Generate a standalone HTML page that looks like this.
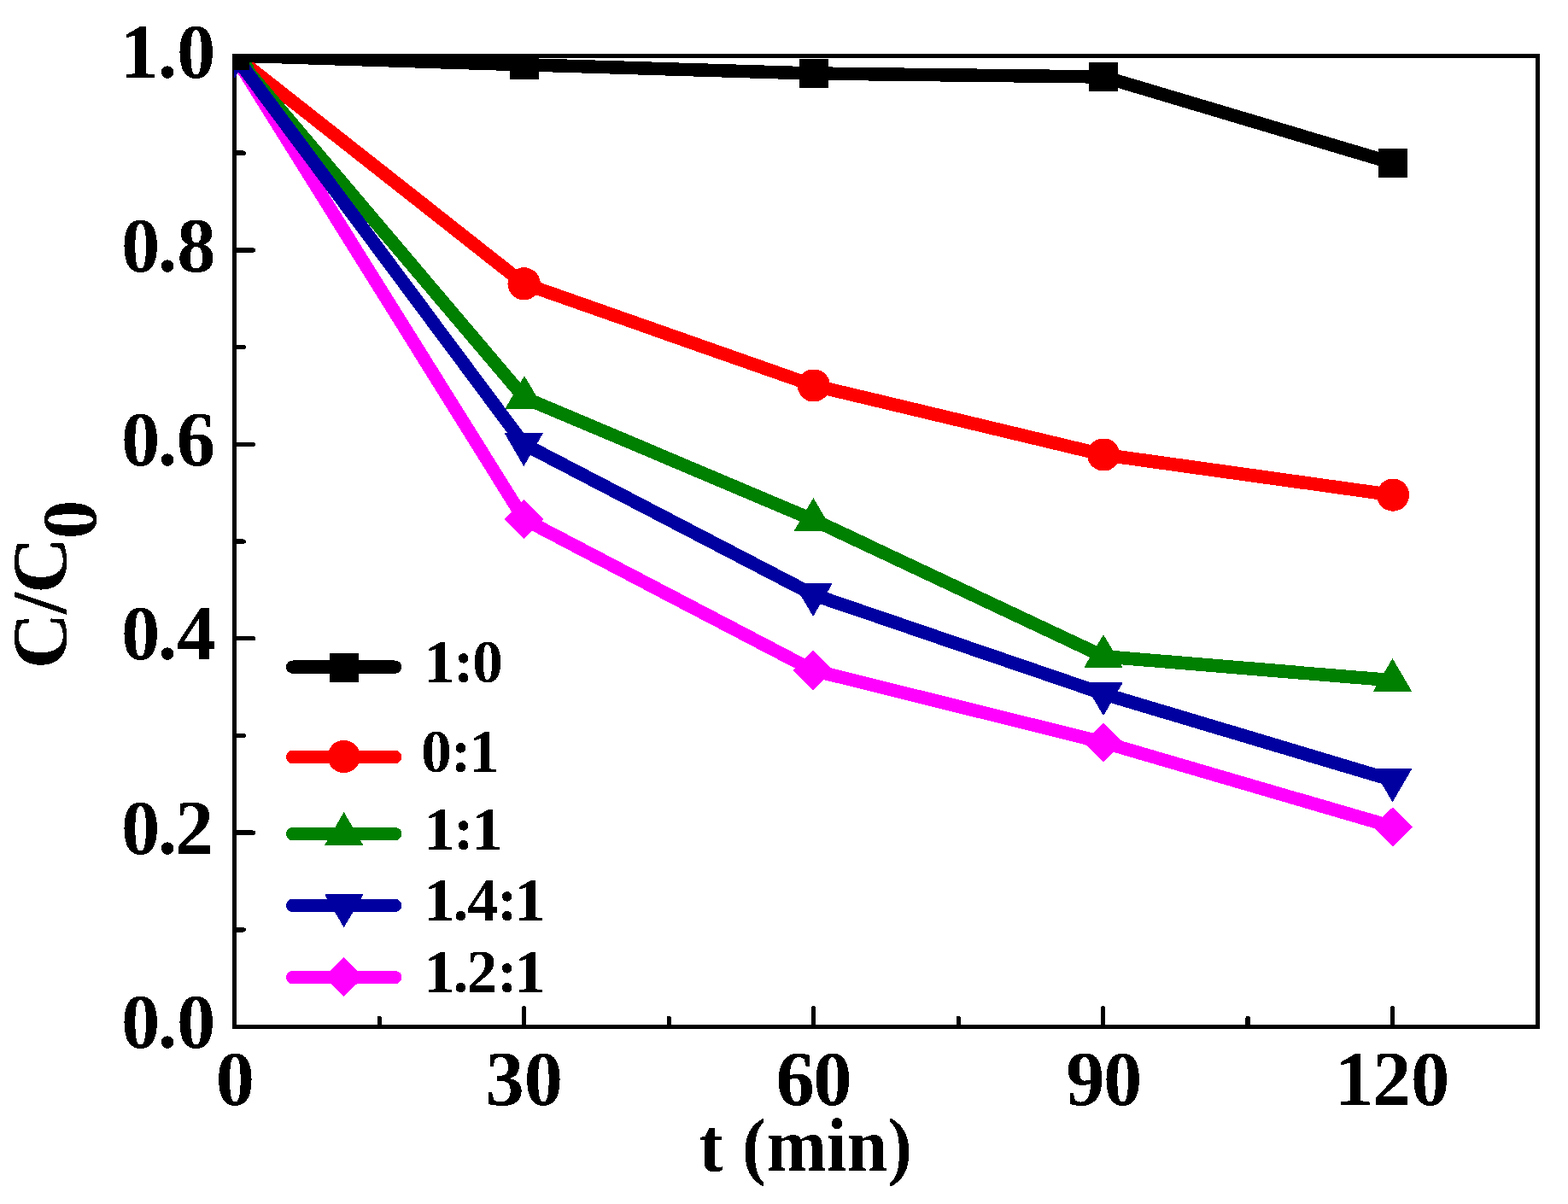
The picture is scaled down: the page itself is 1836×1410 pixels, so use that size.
<!DOCTYPE html>
<html lang="en">
<head>
<meta charset="utf-8">
<title>C/C0 vs t (min)</title>
<style>
html,body{margin:0;padding:0;background:#fff;}
body{width:1836px;height:1410px;overflow:hidden;}
svg{display:block;}
text{font-family:"Liberation Serif",serif;font-weight:bold;fill:#000;white-space:pre;}
.tk{font-size:90.5px;}
.lg{font-size:71.8px;}
.xt{font-size:89px;}
.yt{font-size:91px;}
</style>
</head>
<body>
<svg width="1836" height="1410" viewBox="0 0 1836 1410">
<rect x="0" y="0" width="1836" height="1410" fill="#fff"/>
<defs><clipPath id="plot"><rect x="274" y="63" width="1530" height="1142"/></clipPath>
<filter id="bin" x="0" y="0" width="100%" height="100%" filterUnits="userSpaceOnUse" color-interpolation-filters="sRGB"><feComponentTransfer><feFuncA type="discrete" tableValues="0 1"/></feComponentTransfer></filter></defs>
<g>
<!-- axes frame and ticks -->
<rect x="274.5" y="65.5" width="1526.25" height="1137.0" fill="none" stroke="#000" stroke-width="5" shape-rendering="crispEdges"/>
<g stroke="#000" stroke-width="5.2" stroke-linecap="round" filter="url(#bin)">
<line x1="613.81" y1="1201.5" x2="613.81" y2="1180.6"/>
<line x1="952.72" y1="1201.5" x2="952.72" y2="1180.6"/>
<line x1="1291.63" y1="1201.5" x2="1291.63" y2="1180.6"/>
<line x1="1630.54" y1="1201.5" x2="1630.54" y2="1180.6"/>
<line x1="444.36" y1="1201.5" x2="444.36" y2="1192"/>
<line x1="783.26" y1="1201.5" x2="783.26" y2="1192"/>
<line x1="1122.18" y1="1201.5" x2="1122.18" y2="1192"/>
<line x1="1461.09" y1="1201.5" x2="1461.09" y2="1192"/>
<line x1="275.5" y1="975.1" x2="296.5" y2="975.1"/>
<line x1="275.5" y1="747.7" x2="296.5" y2="747.7"/>
<line x1="275.5" y1="520.3" x2="296.5" y2="520.3"/>
<line x1="275.5" y1="292.9" x2="296.5" y2="292.9"/>
<line x1="275.5" y1="1088.8" x2="285.4" y2="1088.8"/>
<line x1="275.5" y1="861.4" x2="285.4" y2="861.4"/>
<line x1="275.5" y1="634" x2="285.4" y2="634"/>
<line x1="275.5" y1="406.6" x2="285.4" y2="406.6"/>
<line x1="275.5" y1="179.2" x2="285.4" y2="179.2"/>
</g>
<!-- data series -->
<g clip-path="url(#plot)">
<g filter="url(#bin)"><polyline points="275,65.6 613.5,608 952,785 1292,869.4 1630.8,968.3" fill="none" stroke="#ff00ff" stroke-width="15.5" stroke-linejoin="round" stroke-linecap="butt"/>
<polygon points="275,42.6 298.4,65.6 275,88.6 251.6,65.6" fill="#ff00ff"/><polygon points="613.5,585 636.9,608 613.5,631 590.1,608" fill="#ff00ff"/><polygon points="952,762 975.4,785 952,808 928.6,785" fill="#ff00ff"/><polygon points="1292,846.4 1315.4,869.4 1292,892.4 1268.6,869.4" fill="#ff00ff"/><polygon points="1630.8,945.3 1654.2,968.3 1630.8,991.3 1607.4,968.3" fill="#ff00ff"/></g>
<g filter="url(#bin)"><polyline points="275,65.6 613.6,332.3 952.8,451.5 1292.2,532.5 1631.1,579.7" fill="none" stroke="#ff0000" stroke-width="15.5" stroke-linejoin="round" stroke-linecap="butt"/>
<circle cx="275" cy="65.6" r="19.1" fill="#ff0000"/><circle cx="613.6" cy="332.3" r="19.1" fill="#ff0000"/><circle cx="952.8" cy="451.5" r="19.1" fill="#ff0000"/><circle cx="1292.2" cy="532.5" r="19.1" fill="#ff0000"/><circle cx="1631.1" cy="579.7" r="19.1" fill="#ff0000"/></g>
<g filter="url(#bin)"><polyline points="275,65.6 614,465.8 952.4,608.8 1292,768.7 1630.5,796.8" fill="none" stroke="#008000" stroke-width="15.5" stroke-linejoin="round" stroke-linecap="butt"/>
<polygon points="275,39.8 297.7,78.6 252.3,78.6" fill="#008000"/><polygon points="614,440 636.7,478.8 591.3,478.8" fill="#008000"/><polygon points="952.4,583 975.1,621.8 929.7,621.8" fill="#008000"/><polygon points="1292,742.9 1314.7,781.7 1269.3,781.7" fill="#008000"/><polygon points="1630.5,771 1653.2,809.8 1607.8,809.8" fill="#008000"/></g>
<g filter="url(#bin)"><polyline points="275,65.6 613.3,520.1 952.1,696.3 1292,812.5 1630.5,913.6" fill="none" stroke="#0000a0" stroke-width="15.5" stroke-linejoin="round" stroke-linecap="butt"/>
<polygon points="275,91.4 297.7,52.6 252.3,52.6" fill="#0000a0"/><polygon points="613.3,545.9 636,507.1 590.6,507.1" fill="#0000a0"/><polygon points="952.1,722.1 974.8,683.3 929.4,683.3" fill="#0000a0"/><polygon points="1292,838.3 1314.7,799.5 1269.3,799.5" fill="#0000a0"/><polygon points="1630.5,939.4 1653.2,900.6 1607.8,900.6" fill="#0000a0"/></g>
<g filter="url(#bin)"><polyline points="275,65 614,75.8 953,85.9 1292,89.9 1631,191" fill="none" stroke="#000000" stroke-width="15.5" stroke-linejoin="round" stroke-linecap="butt"/>
<rect x="258" y="48" width="34" height="34" fill="#000000"/><rect x="597" y="58.8" width="34" height="34" fill="#000000"/><rect x="936" y="68.9" width="34" height="34" fill="#000000"/><rect x="1275" y="72.9" width="34" height="34" fill="#000000"/><rect x="1614" y="174" width="34" height="34" fill="#000000"/></g>
</g>
<!-- legend -->
<g filter="url(#bin)"><line x1="342.6" y1="781.1" x2="462.7" y2="781.1" stroke="#000000" stroke-width="15.4" stroke-linecap="round"/><rect x="385.7" y="765" width="34" height="34" fill="#000000"/></g>
<g filter="url(#bin)"><line x1="342.6" y1="886.5" x2="462.7" y2="886.5" stroke="#ff0000" stroke-width="15.4" stroke-linecap="round"/><circle cx="402.7" cy="886" r="19.1" fill="#ff0000"/></g>
<g filter="url(#bin)"><line x1="342.6" y1="976.6" x2="462.7" y2="976.6" stroke="#008000" stroke-width="15.4" stroke-linecap="round"/><polygon points="402.7,951.1 425.4,989.9 380,989.9" fill="#008000"/></g>
<g filter="url(#bin)"><line x1="342.6" y1="1060.4" x2="462.7" y2="1060.4" stroke="#0000a0" stroke-width="15.4" stroke-linecap="round"/><polygon points="402.7,1086.2 425.4,1047.4 380,1047.4" fill="#0000a0"/></g>
<g filter="url(#bin)"><line x1="342.6" y1="1144.6" x2="462.7" y2="1144.6" stroke="#ff00ff" stroke-width="15.4" stroke-linecap="round"/><polygon points="402.7,1121 426.1,1144 402.7,1167 379.3,1144" fill="#ff00ff"/></g>
</g>
<g filter="url(#bin)">
<!-- legend labels -->
<text class="lg" x="496.38 530.96 553.05" y="799.3">1:0</text>
<text class="lg" x="493 527.81 548.63" y="904.1">0:1</text>
<text class="lg" x="496.38 530.96 552.48" y="994.9">1:1</text>
<text class="lg" x="496.38 530.52 547.18 581.96 602.58" y="1077.9">1.4:1</text>
<text class="lg" x="496.38 530.52 546.59 581.96 602.58" y="1161.9">1.2:1</text>
<!-- tick labels -->
<text class="tk" x="252.77" y="1294.4">0</text>
<text class="tk" x="568.52 613.77" y="1294.4">30</text>
<text class="tk" x="908.4 952.22" y="1294.4">60</text>
<text class="tk" x="1248.17 1291.93" y="1294.4">90</text>
<text class="tk" x="1562.94 1607.12 1651.93" y="1294.4">120</text>
<text class="tk" x="141.88 184.64 207.03" y="1227">0.0</text>
<text class="tk" x="141.88 184.64 204.77" y="1000.1">0.2</text>
<text class="tk" x="141.88 184.64 207.05" y="772.3">0.4</text>
<text class="tk" x="141.88 184.64 206.7" y="545.3">0.6</text>
<text class="tk" x="141.88 184.64 207.28" y="317.8">0.8</text>
<text class="tk" x="140.19 184.64 207.03" y="91.2">1.0</text>
<!-- axis titles -->
<text class="xt" transform="translate(0,1371.1) scale(0.95,1.0)" x="861.71 899.19 914.71 944.65 1018.89 1044.1 1094.49" y="0">t (min)</text>
<text class="yt" transform="translate(77.4,0) rotate(-90)" x="-783.21 -719.26 -694.96" y="0">C/C<tspan x="-631.25" dy="34.5">0</tspan></text>
</g>
</svg>
</body>
</html>
